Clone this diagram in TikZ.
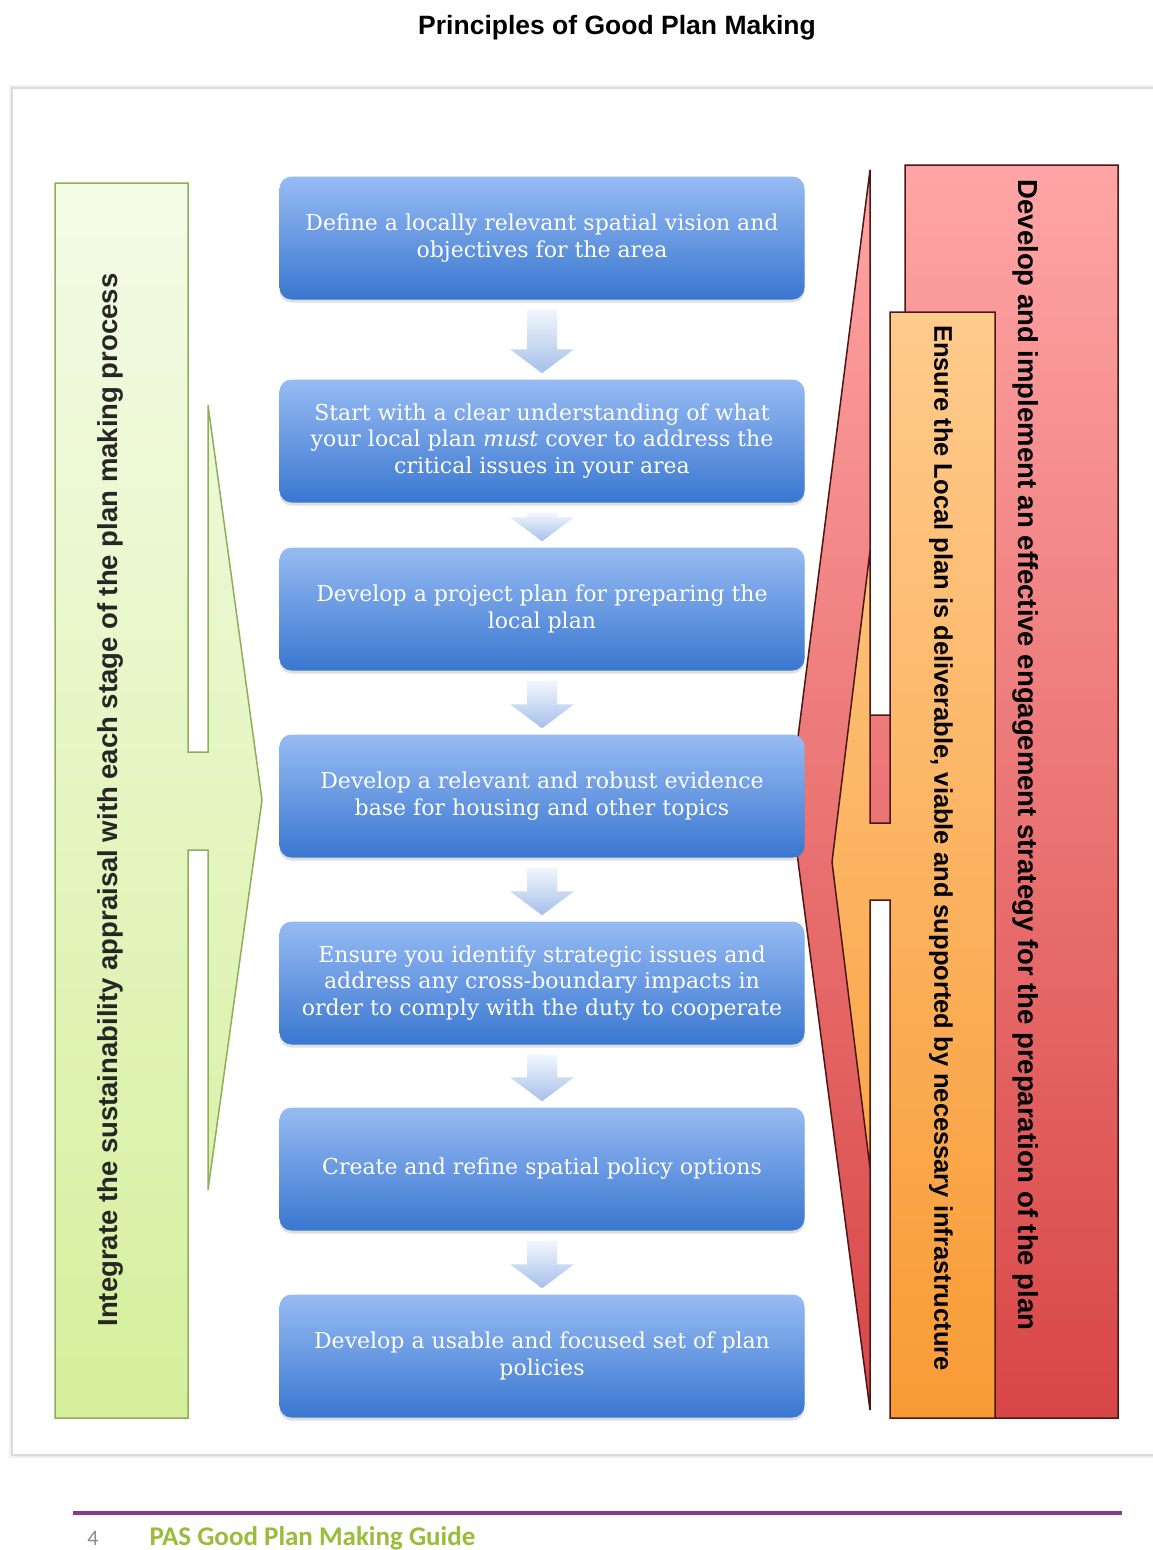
\documentclass[tikz,border=0pt]{standalone}
\usepackage{fontspec}
\setmainfont{DejaVu Serif}
\setsansfont{Liberation Sans}
\newfontfamily\guidefont{Carlito}
\usepackage{xcolor}
\usetikzlibrary{calc,shadows}

\definecolor{boxtop}{HTML}{97BBF3}
\definecolor{boxbot}{HTML}{3A77D0}
\definecolor{arrtop}{HTML}{F2F6FC}
\definecolor{arrbot}{HTML}{A5C0EA}
\definecolor{greentop}{HTML}{F4FBE6}
\definecolor{greenbot}{HTML}{D6EF9C}
\definecolor{greenline}{HTML}{8FAE5A}
\definecolor{redtop}{HTML}{FFA5A5}
\definecolor{redbot}{HTML}{D84646}
\definecolor{redline}{HTML}{4A1616}
\definecolor{orangetop}{HTML}{FFCB8C}
\definecolor{orangebot}{HTML}{F89B35}
\definecolor{guidegreen}{HTML}{9BBB3B}
\definecolor{rulepurple}{HTML}{8B3A8B}

\begin{document}
\begin{tikzpicture}[x=1pt,y=-1pt,
  stage/.style={rounded corners=12pt, minimum width=525pt, minimum height=123pt,
    top color=boxtop, bottom color=boxbot, text=white, align=center,
    font=\fontsize{22}{26.5}\selectfont,
    drop shadow={shadow xshift=0pt, shadow yshift=-3pt, opacity=.25}},
  flow/.style={top color=arrtop, bottom color=arrbot},
  sidetext/.style={font=\sffamily\bfseries\fontsize{27.5}{30}\selectfont, inner sep=0pt}]
\useasboundingbox (0,0) rectangle (1152,1550);

\node (title) at (617,28) {\sffamily\bfseries\fontsize{26.5}{30}\selectfont Principles of Good Plan Making};

% panel
\draw[black!6, line width=6pt] (12,88) rectangle (1170,1455);
\draw[black!14, fill=white, line width=1.5pt] (12,88) rectangle (1170,1455);

% left bracket
\draw[greenline, line width=1.5pt, top color=greentop, bottom color=greenbot]
  (55,183) -- (188,183) -- (188,752) -- (208,752) -- (208,405) -- (262,800)
  -- (208,1190) -- (208,850) -- (188,850) -- (188,1418) -- (55,1418) -- cycle;
\node[sidetext, rotate=90, text=black!85] (sa) at (110,800)
  {Integrate the sustainability appraisal with each stage of the plan making process};

% right brackets
\draw[redline, line width=1.5pt, top color=redtop, bottom color=redbot]
  (905,165) -- (1118,165) -- (1118,1418) -- (905,1418) -- (905,825) -- (870,825)
  -- (870,1410) -- (790,800) -- (870,170) -- (870,715) -- (905,715) -- cycle;
\node[sidetext, rotate=-90] (engage) at (1026,755)
  {Develop and implement an effective engagement strategy for the preparation of the plan};

\draw[redline, line width=1.5pt, top color=orangetop, bottom color=orangebot]
  (890,312) -- (995,312) -- (995,1418) -- (890,1418) -- (890,900) -- (870,900)
  -- (870,1168) -- (832,862) -- (870,551) -- (870,823) -- (890,823) -- cycle;
\node[sidetext, rotate=-90, font=\sffamily\bfseries\fontsize{25.5}{28}\selectfont] (deliver) at (941,848)
  {Ensure the Local plan is deliverable, viable and supported by necessary infrastructure};

% stages
\node[stage] (s1) at (542,238) {Define a locally relevant spatial vision and\\objectives for the area};
\node[stage] (s2) at (542,441) {Start with a clear understanding of what\\your local plan \emph{must} cover to address the\\critical issues in your area};
\node[stage] (s3) at (542,609) {Develop a project plan for preparing the\\local plan};
\node[stage] (s4) at (542,796) {Develop a relevant and robust evidence\\base for housing and other topics};
\node[stage] (s5) at (542,983) {Ensure you identify strategic issues and\\address any cross-boundary impacts in\\order to comply with the duty to cooperate};
\node[stage] (s6) at (542,1169) {Create and refine spatial policy options};
\node[stage] (s7) at (542,1356) {Develop a usable and focused set of plan\\policies};

\foreach \a/\b in {s1/s2,s2/s3,s3/s4,s4/s5,s5/s6,s6/s7}
  \path[flow] let \p1=($(\a.south)+(0,10)$), \p2=($(\b.north)+(0,-6)$) in
    (\x1-15pt,\y1) -- (\x1+15pt,\y1) -- (\x1+15pt,\y2+24pt) -- (\x1+32pt,\y2+24pt)
    -- (\x1,\y2) -- (\x1-32pt,\y2+24pt) -- (\x1-15pt,\y2+24pt) -- cycle;

% footer
\draw[rulepurple, line width=4.5pt] (73,1513) -- (1122,1513);
\node[text=black!45, font=\guidefont\fontsize{22}{24}\selectfont] (page) at (93,1538) {4};
\node[anchor=west, text=guidegreen, font=\guidefont\bfseries\fontsize{27}{30}\selectfont] (guide) at (146,1538) {PAS Good Plan Making Guide};
\end{tikzpicture}
\end{document}
